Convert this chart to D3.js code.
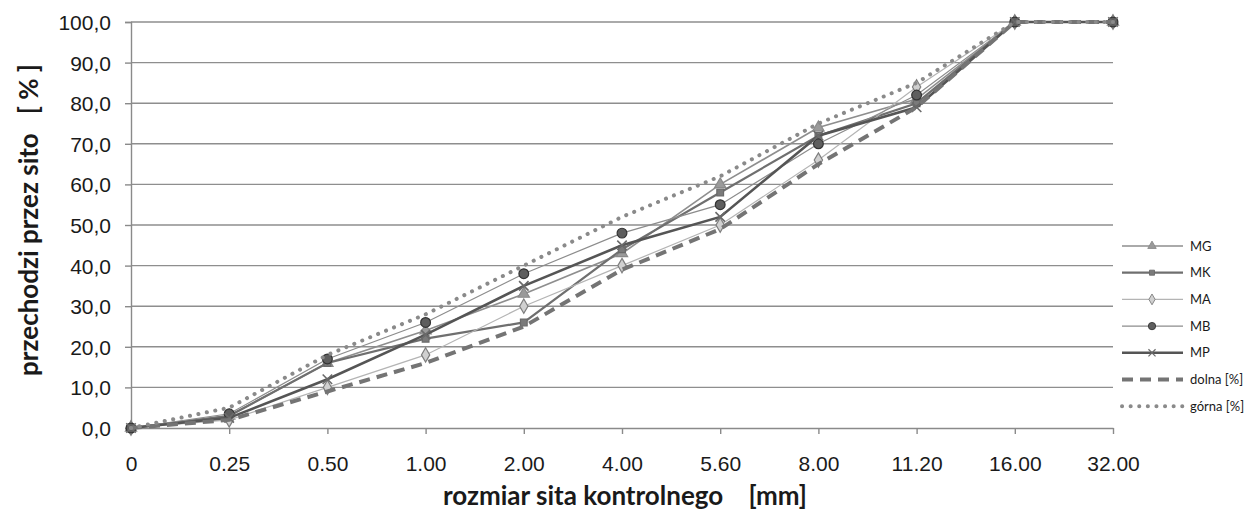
<!DOCTYPE html>
<html lang="pl">
<head>
<meta charset="utf-8">
<title>Krzywe uziarnienia</title>
<script src="https://cdn.jsdelivr.net/npm/d3@7"></script>
<style>
  body { margin: 0; background: #fff; }
  svg { display: block; font-family: Lato, "Open Sans", sans-serif; }
</style>
</head>
<body>
<svg id="chart"></svg>
<script>
// sita kontrolne [mm]
const sieves = ["0", "0.25", "0.50", "1.00", "2.00", "4.00", "5.60", "8.00", "11.20", "16.00", "32.00"];
const yTicks = [0, 10, 20, 30, 40, 50, 60, 70, 80, 90, 100];

// przechodzi przez sito [%]
const MG    = [0, 3,   16, 24, 33, 43, 60, 74, 81, 100, 100];
const MK    = [0, 3,   16, 22, 26, 44, 58, 72, 80, 100, 100];
const MA    = [0, 2,   10, 18, 30, 40, 50, 66, 84, 100, 100];
const MB    = [0, 3.5, 17, 26, 38, 48, 55, 70, 82, 100, 100];
const MP    = [0, 2.5, 12, 23, 35, 45, 52, 72, 79, 100, 100];
const dolna = [0, 2,   9,  16, 25, 39, 49, 65, 79, 100, 100];
const gorna = [0, 5,   18, 28, 40, 52, 62, 75, 85, 100, 100];

const W = 1248, H = 512;
const svg = d3.select("#chart").attr("width", W).attr("height", H);

const x = d3.scalePoint().domain(sieves).range([131, 1113]);
const y = d3.scaleLinear().domain([0, 100]).range([428, 22]);

// siatka
svg.append("g").selectAll("line")
  .data(yTicks.filter(d => d > 0))
  .enter().append("line")
  .attr("x1", 131).attr("x2", 1113)
  .attr("y1", d => y(d)).attr("y2", d => y(d))
  .attr("stroke", "#8e8e8e").attr("stroke-width", 1.4);

// os Y
const yAxis = svg.append("g")
  .attr("transform", "translate(131,0)")
  .call(d3.axisLeft(y).tickValues(yTicks).tickSize(6).tickPadding(14)
    .tickFormat(d => d3.format(".1f")(d).replace(".", ",")));
yAxis.select(".domain").attr("stroke", "#8a8a8a").attr("stroke-width", 1.4);
yAxis.selectAll(".tick line").attr("stroke", "#8a8a8a").attr("stroke-width", 1.4);
yAxis.selectAll("text").style("font-size", "21px").attr("fill", "#1a1a1a").attr("dy", "0.36em");

// os X
const xAxis = svg.append("g")
  .attr("transform", "translate(0," + y(0) + ")")
  .call(d3.axisBottom(x).tickSize(6).tickPadding(22).tickSizeOuter(0));
xAxis.select(".domain").attr("stroke", "#8a8a8a").attr("stroke-width", 1.4);
xAxis.selectAll(".tick line").attr("stroke", "#8a8a8a").attr("stroke-width", 1.4);
xAxis.selectAll("text").style("font-size", "21px").attr("fill", "#1a1a1a");

// tytuly osi
svg.append("text")
  .attr("x", 625).attr("y", 505)
  .attr("text-anchor", "middle")
  .style("font-size", "26px").style("font-weight", "bold").attr("fill", "#1a1a1a")
  .attr("xml:space", "preserve")
  .text("rozmiar sita kontrolnego    [mm]");

svg.append("text")
  .attr("transform", "translate(38,220) rotate(-90)")
  .attr("text-anchor", "middle")
  .style("font-size", "26px").style("font-weight", "bold").attr("fill", "#1a1a1a")
  .attr("xml:space", "preserve")
  .text("przechodzi przez sito   [ % ]");

// serie
const series = [
  { name: "MG", values: MG, color: "#8e8e8e", width: 1.6, marker: "triangle", mfill: "#9a9a9a", mstroke: "#8a8a8a" },
  { name: "MK", values: MK, color: "#6f6f6f", width: 2.2, marker: "square", mfill: "#7a7a7a", mstroke: "#6a6a6a" },
  { name: "MA", values: MA, color: "#b4b4b4", width: 1.2, marker: "diamond", mfill: "#d0d0d0", mstroke: "#7e7e7e" },
  { name: "MB", values: MB, color: "#8c8c8c", width: 1.2, marker: "circle", mfill: "#5e5e5e", mstroke: "#333" },
  { name: "MP", values: MP, color: "#555555", width: 2.6, marker: "cross", mfill: "none", mstroke: "#6a6a6a" },
  { name: "dolna [%]", values: dolna, color: "#747474", width: 4, dash: "11,7", marker: null },
  { name: "górna [%]", values: gorna, color: "#8a8a8a", width: 4, dash: "0.1,8.5", cap: "round", marker: null }
];

const symbols = {
  triangle: d3.symbol().type(d3.symbolTriangle).size(55),
  square: d3.symbol().type(d3.symbolSquare).size(45),
  diamond: d3.symbol().type(d3.symbolDiamond).size(60),
  circle: d3.symbol().type(d3.symbolCircle).size(75),
  cross: d3.symbol().type(d3.symbolX).size(60)
};

function drawMarker(g, s, cx, cy, scale) {
  g.append("path")
    .attr("d", symbols[s.marker]())
    .attr("transform", "translate(" + cx + "," + cy + ") scale(" + (scale || 1) + ")")
    .attr("fill", s.mfill)
    .attr("stroke", s.mstroke)
    .attr("stroke-width", s.marker === "cross" ? 1.6 : 1.2);
}

const line = d3.line()
  .x((d, i) => x(sieves[i]))
  .y(d => y(d));

series.forEach(s => {
  const g = svg.append("g");
  g.append("path")
    .attr("d", line(s.values))
    .attr("fill", "none")
    .attr("stroke", s.color)
    .attr("stroke-width", s.width)
    .attr("stroke-dasharray", s.dash || null)
    .attr("stroke-linecap", s.cap || "butt");
  if (s.marker) {
    s.values.forEach((v, i) => drawMarker(g, s, x(sieves[i]), y(v)));
  }
});

// legenda
const legend = svg.append("g");
series.forEach((s, i) => {
  const ly = 246 + i * 26.7;
  legend.append("line")
    .attr("x1", 1122).attr("x2", 1183)
    .attr("y1", ly).attr("y2", ly)
    .attr("stroke", s.color)
    .attr("stroke-width", s.width)
    .attr("stroke-dasharray", s.dash || null)
    .attr("stroke-linecap", s.cap || "butt");
  if (s.marker) drawMarker(legend, s, 1152, ly, 0.75);
  legend.append("text")
    .attr("x", 1190).attr("y", ly)
    .attr("dy", "0.36em")
    .style("font-size", "13px").attr("fill", "#1a1a1a")
    .text(s.name);
});
</script>
</body>
</html>
